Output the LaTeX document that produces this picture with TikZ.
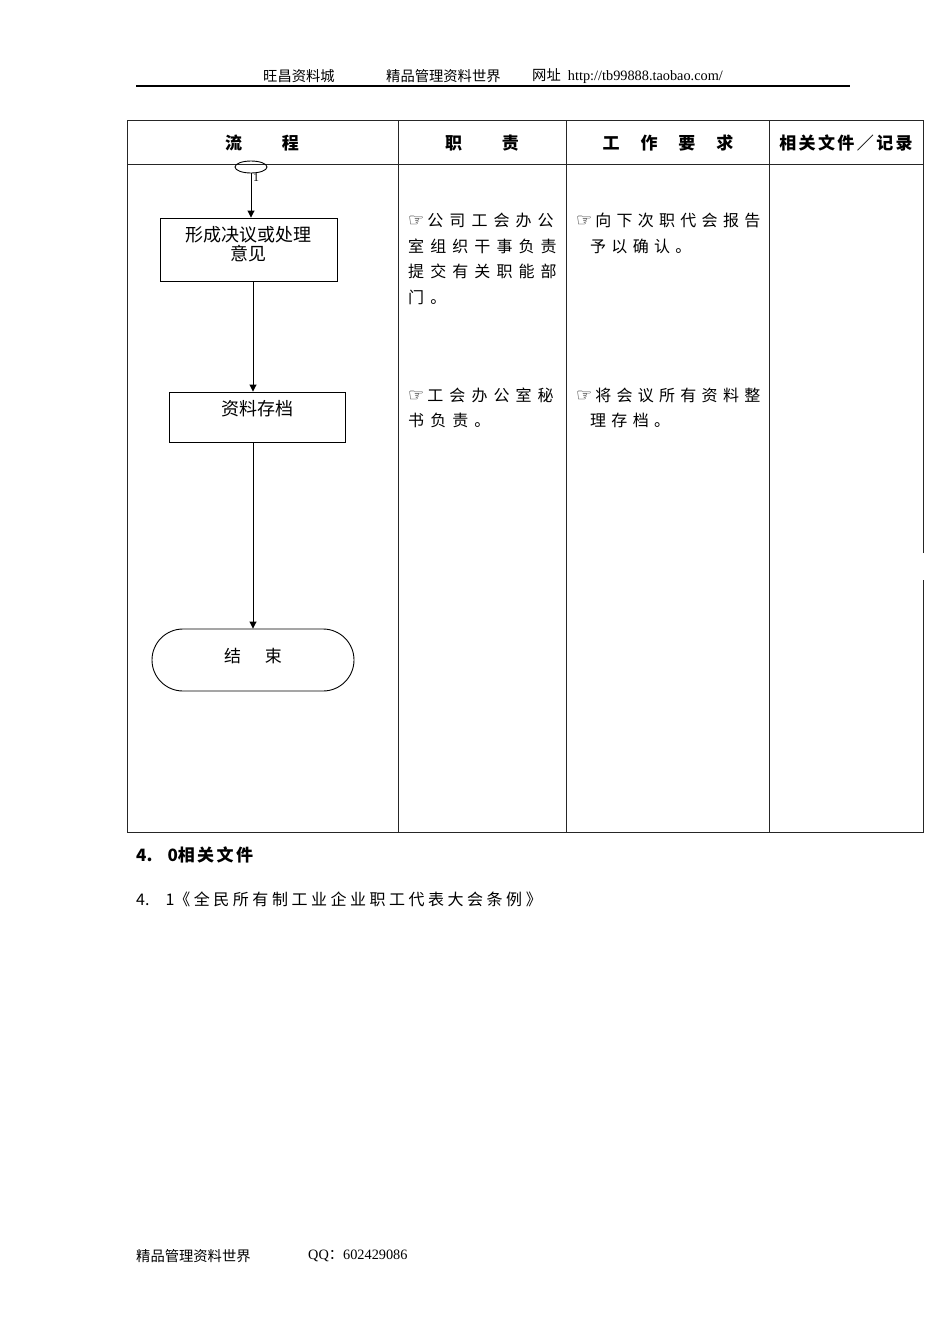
\documentclass[tikz,border=0pt]{standalone}
\usepackage{fontspec}
\setmainfont{Liberation Serif}
\newfontfamily\cjk{Noto Sans CJK SC}
\newfontfamily\cjkspa[LetterSpace=38]{Noto Sans CJK SC}
\newfontfamily\cjkspc[LetterSpace=33]{Noto Sans CJK SC}
\newfontfamily\cjkspd[LetterSpace=22]{Noto Sans CJK SC}
\newfontfamily\cjkspb[LetterSpace=14]{Noto Sans CJK SC}
\newfontfamily\sym{DejaVu Sans}
\newcommand{\hand}{{\sym\fontsize{18}{20}\selectfont ☞}\hspace{3pt}}
\usetikzlibrary{arrows.meta,shapes.geometric}
\tikzset{
  grid/.style={line width=0.9pt, draw=black!85},
  flowbox/.style={draw, line width=0.9pt, inner sep=0pt},
  flowarrow/.style={line width=0.9pt, -{Triangle[length=7pt,width=7pt]}},
  hdr/.style={font=\cjk\bfseries\fontsize{17}{20}\selectfont, inner sep=0pt},
  cella/.style={font=\cjkspa\fontsize{16}{20}\selectfont, anchor=west, inner sep=0pt},
  cellc/.style={font=\cjkspc\fontsize{16}{20}\selectfont, anchor=west, inner sep=0pt},
  small/.style={font=\fontsize{14.3}{16}\selectfont, anchor=west, inner sep=0pt},
}
\begin{document}
\begin{tikzpicture}[x=1pt,y=-1pt]
\useasboundingbox (0,0) rectangle (950,1344);
\fill[white] (0,0) rectangle (950,1344);

% page header
\node[small] (h1) at (263,76) {\cjk 旺昌资料城};
\node[small] (h2) at (386,76) {\cjk 精品管理资料世界};
\node[small] (h3) at (532,76) {{\cjk 网址}\ \ http://tb99888.taobao.com/};
\draw[line width=1.2pt] (136,86) -- (850,86);

% table
\draw[grid] (923,553) -- (923,120) -- (127,120) -- (127,832) -- (923,832) -- (923,580);
\draw[grid] (127,164) -- (923,164);
\draw[grid] (398,120) -- (398,832);
\draw[grid] (566,120) -- (566,832);
\draw[grid] (769,120) -- (769,832);

\node[hdr] (t1) at (262,143) {流\hspace{40pt}程};
\node[hdr] (t2) at (482,143) {职\hspace{40pt}责};
\node[hdr] (t3) at (668,143) {工\hspace{21pt}作\hspace{21pt}要\hspace{21pt}求};
\node[hdr, font=\cjkspb\bfseries\fontsize{17}{20}\selectfont] (t4) at (846,143) {相关文件／记录};

% flow chart
\node[draw, ellipse, line width=0.9pt, minimum width=32pt, minimum height=12pt, inner sep=0pt] (c1) at (251,167) {};
\node[inner sep=0pt, font=\fontsize{12}{12}\selectfont] (c1l) at (256,178) {1};
\node[flowbox, minimum width=177pt, minimum height=63pt] (b1) at (248.5,249.5) {};
\node[inner sep=0pt, font=\cjk\fontsize{18}{19}\selectfont, align=center] (b1t) at (248.5,244) {形成决议或处理\\意见};
\node[flowbox, minimum width=176pt, minimum height=50pt] (b2) at (257,417) {};
\node[inner sep=0pt, font=\cjk\fontsize{18}{19}\selectfont] (b2t) at (257,409) {资料存档};
\node[flowbox, minimum width=202pt, minimum height=62pt, rounded corners=31pt] (b3) at (253,660) {};
\node[inner sep=0pt, font=\cjk\fontsize{17}{19}\selectfont] (b3t) at (253,656) {结\hspace{24pt}束};

\draw[flowarrow] (c1.south) -- (c1.south |- b1.north);
\draw[flowarrow] (253,281) coordinate (a1) -- (a1 |- b2.north);
\draw[flowarrow] (253,442) coordinate (a2) -- (a2 |- b3.north);

% responsibility column
\node[cella] (r1) at (408,220) {\hand 公司工会办公};
\node[cella] (r2) at (408,246) {室组织干事负责};
\node[cella] (r3) at (408,271) {提交有关职能部};
\node[cella] (r4) at (408,297) {门。};
\node[cella] (r5) at (408,395) {\hand 工会办公室秘};
\node[cella] (r6) at (408,420) {书负责。};

% requirement column
\node[cellc] (q1) at (576,220) {\hand 向下次职代会报告};
\node[cellc] (q2) at (590,246) {予以确认。};
\node[cellc] (q3) at (576,395) {\hand 将会议所有资料整};
\node[cellc] (q4) at (590,420) {理存档。};

% below table
\node[anchor=west, inner sep=0pt, font=\cjk\bfseries\fontsize{17}{20}\selectfont] (s1) at (136,855) {4.\hspace{15pt}0{\cjkspb 相关文件}};
\node[anchor=west, inner sep=0pt, font=\cjk\fontsize{16}{20}\selectfont] (s2) at (136,899) {4.\hspace{16pt}1{\cjkspd 《全民所有制工业企业职工代表大会条例》}};

% footer
\node[small] (f1) at (136,1256) {\cjk 精品管理资料世界};
\node[small] (f2) at (308,1256) {QQ{\cjk ：}602429086};
\end{tikzpicture}
\end{document}
